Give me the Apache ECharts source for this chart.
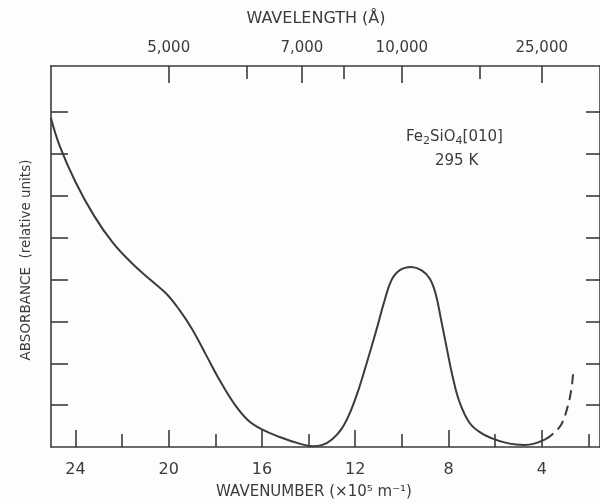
<!DOCTYPE html>
<html>
<head>
<meta charset="utf-8">
<script src="https://cdn.jsdelivr.net/npm/echarts@6/dist/echarts.min.js"></script>
<style>
  html, body { margin: 0; padding: 0; background: #fdfdfc; }
  #chart { width: 600px; height: 503px; }
</style>
</head>
<body>
<div id="chart"></div>
<script>
// absorbance spectrum: [wavenumber (x10^5 m^-1), absorbance]
const solidCurve = [
  [25.06, 7.87], [24.67, 7.18], [24.00, 6.33], [23.20, 5.52], [22.40, 4.88],
  [21.60, 4.40], [20.80, 4.00], [20.10, 3.66], [19.55, 3.28], [19.00, 2.82],
  [18.40, 2.20], [17.80, 1.58], [17.20, 1.04], [16.60, 0.64], [16.00, 0.42],
  [15.24, 0.24], [14.39, 0.08], [13.85, 0.02], [13.40, 0.05], [13.00, 0.18],
  [12.60, 0.42], [12.24, 0.80], [11.90, 1.30], [11.50, 2.02], [11.10, 2.78],
  [10.75, 3.48], [10.45, 3.98], [10.10, 4.22], [9.60, 4.30], [9.15, 4.22],
  [8.80, 4.02], [8.55, 3.66], [8.32, 3.05], [8.08, 2.38], [7.82, 1.68],
  [7.53, 1.08], [7.10, 0.58], [6.59, 0.33], [6.10, 0.20], [5.60, 0.11],
  [5.10, 0.06], [4.75, 0.05], [4.32, 0.08], [3.85, 0.18]
];
const dashedCurve = [
  [3.85, 0.18], [3.55, 0.30], [3.16, 0.54], [2.90, 0.94], [2.73, 1.37], [2.65, 1.78]
];

const wavenumberMajor = [24, 20, 16, 12, 8, 4];
const wavenumberMinor = [22, 18, 14, 10, 6, 2];
const wavelengthMajor = [5000, 7000, 10000, 25000];
const wavelengthMinor = [6000, 8000, 15000];
const absorbanceTicks = [1, 2, 3, 4, 5, 6, 7, 8];

// wavelength in angstrom -> wavenumber in 10^5 m^-1
const toNu = l => 1e5 / l;

const ink = '#3b3b3b';
const font = 'DejaVu Sans';
const xMin = 1.5, xMax = 25.05;

const baseX = {
  type: 'value', min: xMin, max: xMax, inverse: true,
  splitLine: { show: false },
  axisLine: { show: false },
  axisLabel: { show: false },
  axisTick: { show: false }
};
const tickLine = { color: ink, width: 1.6 };
const txt = (size) => ({ fontFamily: font, fontSize: size, fontWeight: 'normal', color: ink });

const chart = echarts.init(document.getElementById('chart'), null, { renderer: 'canvas' });
chart.setOption({
  animation: false,
  backgroundColor: '#fdfdfc',
  textStyle: { fontFamily: font, color: ink },
  grid: { left: 51, right: -1, top: 66, bottom: 56 },
  title: [{
    text: '{t|Fe}{s|2}{t|SiO}{s|4}{t|[010]}',
    left: 401, top: 122,
    textStyle: {
      rich: {
        t: txt(15),
        s: Object.assign(txt(11), { padding: [9, 0, 0, 0] })
      }
    }
  }, {
    text: '295 K',
    left: 430, top: 149,
    textStyle: txt(15)
  }],
  graphic: [{
    type: 'text', x: 316, y: 19,
    style: { text: 'WAVELENGTH (Å)', align: 'center', verticalAlign: 'middle',
      fill: ink, font: '16px "DejaVu Sans"' }
  }, {
    type: 'text', x: 314, y: 492,
    style: { text: 'WAVENUMBER (×10⁵ m⁻¹)', align: 'center', verticalAlign: 'middle',
      fill: ink, font: '15px "DejaVu Sans"' }
  }, {
    type: 'text', x: 26, y: 260, rotation: Math.PI / 2,
    style: { text: 'ABSORBANCE  (relative units)', align: 'center', verticalAlign: 'middle',
      fill: ink, font: '13.5px "DejaVu Sans"' }
  }],
  xAxis: [
    Object.assign({}, baseX, {
      position: 'bottom',
      axisLine: { show: true, lineStyle: tickLine },
      axisTick: { show: true, inside: true, length: 17, customValues: wavenumberMajor, lineStyle: tickLine },
      axisLabel: Object.assign({ show: true, customValues: wavenumberMajor, margin: 15 }, txt(16))
    }),
    Object.assign({}, baseX, {
      position: 'bottom',
      axisTick: { show: true, inside: true, length: 13, customValues: wavenumberMinor, lineStyle: tickLine }
    }),
    Object.assign({}, baseX, {
      position: 'top',
      axisLine: { show: true, lineStyle: tickLine },
      axisTick: { show: true, inside: true, length: 17, customValues: wavelengthMajor.map(toNu), lineStyle: tickLine },
      axisLabel: Object.assign({ show: true, customValues: wavelengthMajor.map(toNu), margin: 10,
        formatter: v => Math.round(toNu(v)).toLocaleString('en-US') }, txt(15))
    }),
    Object.assign({}, baseX, {
      position: 'top',
      axisTick: { show: true, inside: true, length: 13, customValues: wavelengthMinor.map(toNu), lineStyle: tickLine }
    })
  ],
  yAxis: [{
    type: 'value', min: 0, max: 9.1, position: 'left',
    splitLine: { show: false },
    axisLine: { show: true, lineStyle: tickLine },
    axisTick: { show: true, inside: true, length: 17, customValues: absorbanceTicks, lineStyle: tickLine },
    axisLabel: { show: false }
  }, {
    type: 'value', min: 0, max: 9.1, position: 'right',
    splitLine: { show: false },
    axisLine: { show: true, lineStyle: tickLine },
    axisTick: { show: true, inside: true, length: 14, customValues: absorbanceTicks, lineStyle: tickLine },
    axisLabel: { show: false }
  }],
  series: [{
    type: 'line', data: solidCurve, smooth: 0.4, showSymbol: false,
    xAxisIndex: 0, yAxisIndex: 0,
    lineStyle: { color: ink, width: 2 }
  }, {
    type: 'line', data: dashedCurve, smooth: 0.4, showSymbol: false,
    xAxisIndex: 0, yAxisIndex: 0,
    lineStyle: { color: ink, width: 2, type: [10, 6] }
  }]
});
</script>
</body>
</html>
